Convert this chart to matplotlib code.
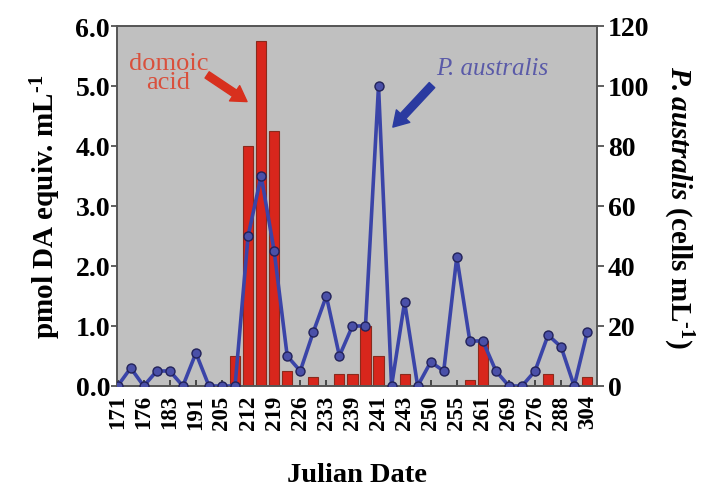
import matplotlib
matplotlib.use('Agg')
import matplotlib.pyplot as plt
import numpy as np

plt.rcParams['font.family'] = ['Liberation Serif', 'DejaVu Serif']
plt.rcParams['mathtext.fontset'] = 'custom'
plt.rcParams['mathtext.rm'] = 'Liberation Serif:bold'
plt.rcParams['mathtext.bf'] = 'Liberation Serif:bold'
plt.rcParams['mathtext.it'] = 'Liberation Serif:italic:bold'
plt.rcParams['mathtext.bfit'] = 'Liberation Serif:italic:bold'

# Julian date labels (every other sample is labelled)
tick_labels = ['171', '176', '183', '191', '205', '212', '219', '226', '233', '239',
               '241', '243', '250', '255', '261', '269', '276', '288', '304']

# domoic acid (pmol DA equiv. mL-1) per sample
da_values = [0, 0, 0, 0, 0, 0, 0, 0, 0, 0.5,
             4.0, 5.75, 4.25, 0.25, 0, 0.15, 0, 0.2, 0.2, 1.0,
             0.5, 0, 0.2, 0, 0, 0, 0, 0.1, 0.75, 0,
             0, 0, 0, 0.2, 0, 0, 0.15]

# P. australis (cells mL-1) per sample
pa_values = [0, 6, 0, 5, 5, 0, 11, 0, 0, 0,
             50, 70, 45, 10, 5, 18, 30, 10, 20, 20,
             100, 0, 28, 0, 8, 5, 43, 15, 15, 5,
             0, 0, 5, 17, 13, 0, 18]

n = len(da_values)
x = np.arange(n)

fig = plt.figure(figsize=(7.05, 4.89), dpi=100)
fig.subplots_adjust(left=117/705, right=597/705, bottom=1-387/489, top=1-27/489)
ax = fig.add_subplot(111)
ax.set_facecolor('#c0c0c0')

ax.bar(x, da_values, width=0.78, color='#d8261c', edgecolor='#8a2a1c', linewidth=0.8, zorder=2)
ax.set_ylim(0, 6.0)
ax.set_xlim(-0.05, 36.75)
ax.set_yticks(np.arange(0, 6.01, 1.0))
ax.set_yticklabels([f'{v:.1f}' for v in np.arange(0, 6.01, 1.0)])
ax.set_xticks(x[::2])
ax.set_xticklabels(tick_labels, rotation=90, fontsize=16.5, fontweight='bold')
ax.tick_params(axis='x', direction='in', length=4, width=1.2, pad=6, color='#333333')
ax.tick_params(axis='y', direction='out', length=4, width=1.2, pad=1, labelsize=20, color='#444444')
for lab in ax.get_yticklabels():
    lab.set_fontweight('bold')
ax.set_ylabel(r'pmol DA equiv. mL$^{\text{-1}}$', fontsize=21, fontweight='bold', labelpad=9)
ax.set_xlabel('Julian Date', fontsize=20.5, fontweight='bold', labelpad=24)

ax2 = ax.twinx()
ax2.plot(x, pa_values, color='#3a44a8', linewidth=2.6, marker='o', markersize=6.5,
         markerfacecolor='#4a50a8', markeredgecolor='#22225a', markeredgewidth=1.0, zorder=3)
ax2.set_ylim(0, 120)
ax2.set_yticks(np.arange(0, 121, 20))
ax2.tick_params(axis='y', direction='out', length=5, width=1.2, pad=3, labelsize=20, color='#444444')
for lab in ax2.get_yticklabels():
    lab.set_fontweight('bold')
ax2.set_ylabel(r'$\mathbfit{P.australis}$ (cells mL$^{\text{-1}}$)', fontsize=21, fontweight='bold',
               rotation=270, labelpad=33)

for a in (ax, ax2):
    for s in a.spines.values():
        s.set_color('#555555')
        s.set_linewidth(1.2)

ax2.text(3.9, 104.5, 'domoic\nacid', color='#d9503c', fontsize=19, ha='center', va='center',
         linespacing=0.8)
ax2.annotate('', xy=(9.92, 94.8), xytext=(6.86, 103.7),
             arrowprops=dict(arrowstyle='simple,head_width=1.1,head_length=0.9,tail_width=0.45',
                             color='#d8301e', mutation_scale=12, shrinkA=0, shrinkB=0))
ax2.text(28.7, 106, 'P. australis', color='#5a5aa8', fontsize=18, style='italic',
         ha='center', va='center')
ax2.annotate('', xy=(21.1, 86.3), xytext=(24.1, 100.3),
             arrowprops=dict(arrowstyle='simple,head_width=1.1,head_length=0.9,tail_width=0.45',
                             color='#2a3aa0', mutation_scale=12, shrinkA=0, shrinkB=0))

fig.savefig('out.png', dpi=100)
